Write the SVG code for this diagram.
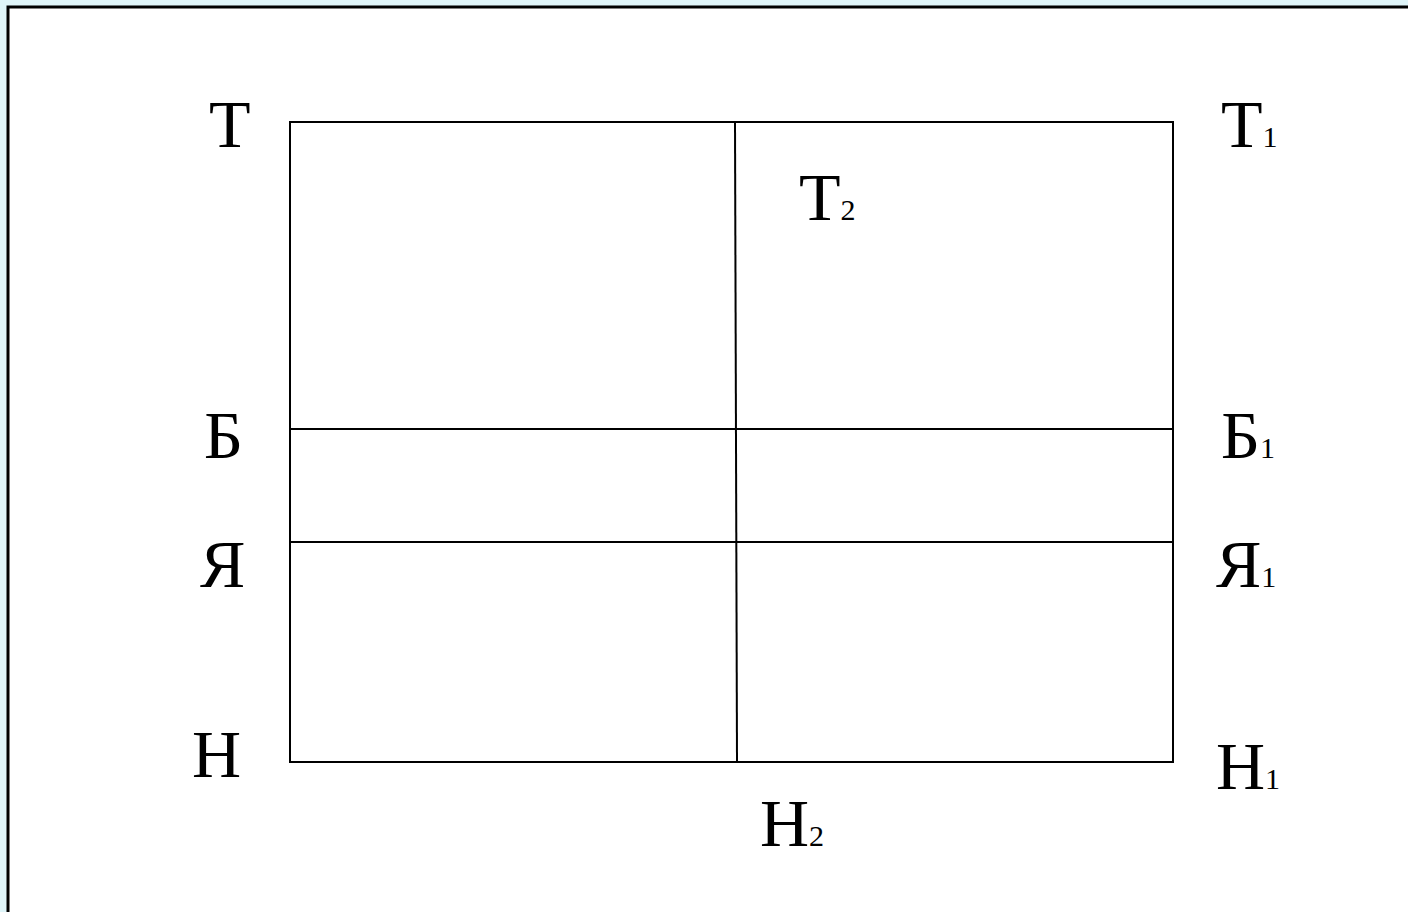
<svg xmlns="http://www.w3.org/2000/svg" width="1408" height="912" viewBox="0 0 1408 912">
<style>
.lbl{font-family:"Liberation Serif","Times New Roman",serif;font-size:68px;fill:#000}
.sub{font-size:30px}
.ln{stroke:#000;stroke-width:2;fill:none}
</style>
<rect x="0" y="0" width="1408" height="912" fill="#dff5f9"/>
<rect x="8" y="7" width="1410" height="920" fill="#fff" stroke="#000" stroke-width="3"/>
<g id="grid">
<rect class="ln" x="290" y="122" width="883" height="640"/>
<line class="ln" x1="735" y1="122" x2="737" y2="762"/>
<line class="ln" x1="290" y1="429" x2="1173" y2="429"/>
<line class="ln" x1="290" y1="542" x2="1173" y2="542"/>
</g>
<g id="labels">
<text class="lbl" x="209" y="147">Т</text>
<text class="lbl" x="1221" y="147">Т<tspan class="sub">1</tspan></text>
<text class="lbl" x="799" y="220">Т<tspan class="sub">2</tspan></text>
<text class="lbl" x="204" y="458">Б</text>
<text class="lbl" x="1221" y="458">Б<tspan class="sub">1</tspan></text>
<text class="lbl" x="200" y="587">Я</text>
<text class="lbl" x="1216" y="587">Я<tspan class="sub">1</tspan></text>
<text class="lbl" x="192" y="777">Н</text>
<text class="lbl" x="1216" y="789">Н<tspan class="sub">1</tspan></text>
<text class="lbl" x="760" y="846">Н<tspan class="sub">2</tspan></text>
</g>
</svg>
